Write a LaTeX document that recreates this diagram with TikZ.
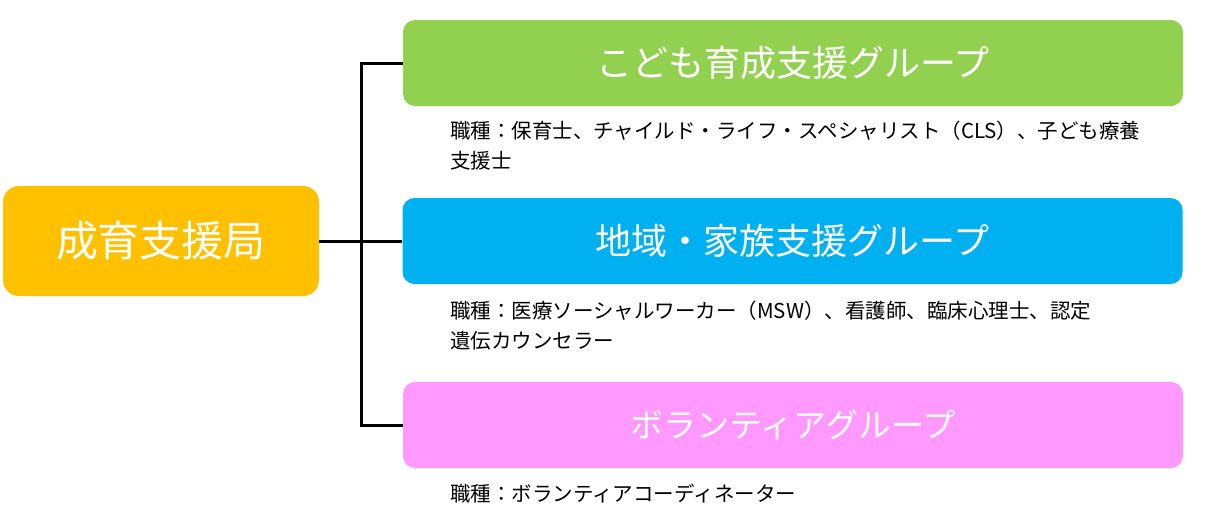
\documentclass[tikz,border=0pt]{standalone}
\usepackage{fontspec}
\setmainfont{Noto Sans CJK JP}
\usetikzlibrary{positioning}
\definecolor{kyokuC}{HTML}{FFC000}
\definecolor{kodomoC}{HTML}{92D050}
\definecolor{chiikiC}{HTML}{00B0F0}
\definecolor{volC}{HTML}{FF99FF}

\begin{document}
\begin{tikzpicture}[
  x=1pt, y=-1pt,
  grp/.style={fill=#1, rounded corners=12pt, minimum width=780pt, minimum height=86pt,
    inner sep=0pt, text=white, font=\fontsize{36}{42}\selectfont},
  desc/.style={anchor=north west, inner sep=0pt, align=left, font=\fontsize{20.5}{30}\selectfont},
  conn/.style={line width=3pt}
]
\useasboundingbox (0,0) rectangle (1216,523);
\node[grp=kyokuC, minimum width=316pt, minimum height=110pt, rounded corners=16pt,
  font=\fontsize{42}{48}\selectfont] (kyoku) at (161,241) {成育支援局};
\node[grp=kodomoC] (kodomo) at (793,63) {こども育成支援グループ};
\node[grp=chiikiC] (chiiki) at (792.5,241) {地域・家族支援グループ};
\node[grp=volC, font=\fontsize{33}{40}\selectfont] (vol) at (793,425) {ボランティアグループ};
% job descriptions
\node[desc] (kodomoTxt) at (450,121) {職種：保育士、チャイルド・ライフ・スペシャリスト（CLS）、子ども療養\\支援士};
\node[desc] (chiikiTxt) at (450,301) {職種：医療ソーシャルワーカー（MSW）、看護師、臨床心理士、認定\\遺伝カウンセラー};
\node[desc] (volTxt) at (450,484) {職種：ボランティアコーディネーター};
% tree lines
\coordinate (jct) at (361,241);
\draw[conn] (kyoku.east) -- (chiiki.west);
\draw[conn] (kodomo.west) -| (jct) |- (vol.west);
\end{tikzpicture}
\end{document}
